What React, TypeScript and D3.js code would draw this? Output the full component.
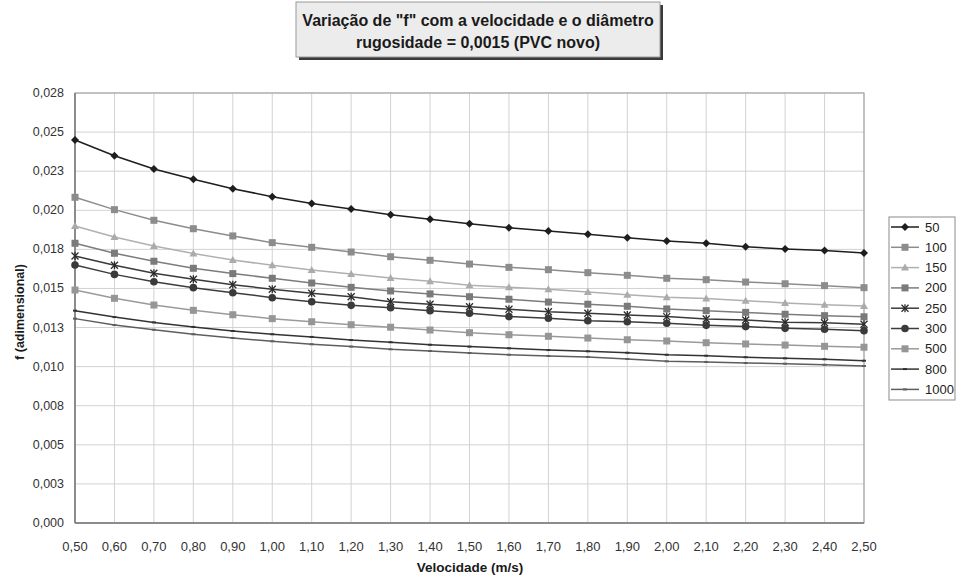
import React from "react";
import * as d3 from "d3";

const velocities = [0.5, 0.6, 0.7, 0.8, 0.9, 1.0, 1.1, 1.2, 1.3, 1.4, 1.5, 1.6, 1.7, 1.8, 1.9, 2.0, 2.1, 2.2, 2.3, 2.4, 2.5];
const xTickLabels = ["0,50", "0,60", "0,70", "0,80", "0,90", "1,00", "1,10", "1,20", "1,30", "1,40", "1,50", "1,60", "1,70", "1,80", "1,90", "2,00", "2,10", "2,20", "2,30", "2,40", "2,50"];
const yTickValues = [0, 0.0025, 0.005, 0.0075, 0.01, 0.0125, 0.015, 0.0175, 0.02, 0.0225, 0.025, 0.0275];
const yTickLabels = ["0,000", "0,003", "0,005", "0,008", "0,010", "0,013", "0,015", "0,018", "0,020", "0,023", "0,025", "0,028"];

const d50 = [0.02449, 0.02349, 0.02264, 0.02198, 0.02138, 0.02087, 0.02044, 0.02008, 0.01972, 0.01942, 0.01914, 0.01889, 0.01867, 0.01846, 0.01825, 0.01804, 0.01789, 0.01767, 0.01752, 0.01742, 0.01727];
const d100 = [0.02083, 0.02004, 0.01936, 0.01882, 0.01836, 0.01793, 0.01763, 0.01733, 0.01703, 0.0168, 0.01656, 0.01635, 0.0162, 0.01601, 0.01584, 0.01565, 0.01556, 0.01541, 0.0153, 0.01518, 0.01505];
const d150 = [0.019, 0.01829, 0.01772, 0.01723, 0.01682, 0.01648, 0.01618, 0.01592, 0.01567, 0.01546, 0.0152, 0.01507, 0.01495, 0.01477, 0.0146, 0.01443, 0.01435, 0.01422, 0.01407, 0.01396, 0.01388];
const d200 = [0.01789, 0.01725, 0.01674, 0.01629, 0.01595, 0.01565, 0.01535, 0.01507, 0.01484, 0.01465, 0.01447, 0.01431, 0.01413, 0.01399, 0.01386, 0.01369, 0.01358, 0.01347, 0.01335, 0.01326, 0.01319];
const d250 = [0.01708, 0.01648, 0.01597, 0.01559, 0.01524, 0.01495, 0.01469, 0.01447, 0.01415, 0.01399, 0.01383, 0.01367, 0.01351, 0.01341, 0.0133, 0.0132, 0.01305, 0.01298, 0.01284, 0.01281, 0.01271];
const d300 = [0.0165, 0.0159, 0.01543, 0.01505, 0.01473, 0.01441, 0.01415, 0.01392, 0.01377, 0.01358, 0.01341, 0.0132, 0.01309, 0.01294, 0.01287, 0.01277, 0.01264, 0.01256, 0.01245, 0.01239, 0.0123];
const d500 = [0.0149, 0.01437, 0.01394, 0.0136, 0.01332, 0.01307, 0.01287, 0.01268, 0.01252, 0.01234, 0.01217, 0.01204, 0.01194, 0.01183, 0.01172, 0.01164, 0.01153, 0.01145, 0.01138, 0.0113, 0.01124];
const d800 = [0.01358, 0.01317, 0.01283, 0.01254, 0.01228, 0.01207, 0.0119, 0.0117, 0.01156, 0.0114, 0.01128, 0.01117, 0.01106, 0.01098, 0.01089, 0.01076, 0.0107, 0.0106, 0.01053, 0.01047, 0.01038];
const d1000 = [0.01307, 0.01266, 0.01236, 0.01207, 0.01183, 0.01162, 0.01143, 0.01128, 0.01111, 0.011, 0.01087, 0.01076, 0.01068, 0.01062, 0.01049, 0.01034, 0.0103, 0.01023, 0.01019, 0.01012, 0.01004];

const seriesNames = ["50", "100", "150", "200", "250", "300", "500", "800", "1000"];
const seriesData = [d50, d100, d150, d200, d250, d300, d500, d800, d1000];
const seriesStyle = [
  { line: "#1e1e1e", fill: "#1e1e1e", marker: "diamond" },
  { line: "#8c8c8c", fill: "#8c8c8c", marker: "square" },
  { line: "#b0b0b0", fill: "#ababab", marker: "triangle" },
  { line: "#7c7c7c", fill: "#7a7a7a", marker: "square" },
  { line: "#3a3a3a", fill: "#2a2a2a", marker: "star" },
  { line: "#3c3c3c", fill: "#3a3a3a", marker: "circle" },
  { line: "#9a9a9a", fill: "#969696", marker: "square" },
  { line: "#333333", fill: "#333333", marker: "dash" },
  { line: "#5e5e5e", fill: "#5e5e5e", marker: "dash" },
];

const FONT = "'Liberation Sans', Arial, sans-serif";

function Marker({ type, x, y, color }: { type: string; x: number; y: number; color: string }) {
  if (type === "diamond") {
    const s = 4;
    return <path d={`M${x},${y - s}L${x + s},${y}L${x},${y + s}L${x - s},${y}Z`} fill={color} />;
  }
  if (type === "square") {
    return <rect x={x - 3.5} y={y - 3.5} width={7} height={7} fill={color} />;
  }
  if (type === "triangle") {
    return <path d={`M${x},${y - 4}L${x + 4},${y + 3}L${x - 4},${y + 3}Z`} fill={color} />;
  }
  if (type === "circle") {
    return <circle cx={x} cy={y} r={3.8} fill={color} />;
  }
  if (type === "star") {
    return (
      <g stroke={color} strokeWidth={1.3}>
        <line x1={x - 3.5} y1={y - 3.5} x2={x + 3.5} y2={y + 3.5} />
        <line x1={x - 3.5} y1={y + 3.5} x2={x + 3.5} y2={y - 3.5} />
        <line x1={x} y1={y - 4} x2={x} y2={y + 4} />
      </g>
    );
  }
  if (type === "dash") {
    return <line x1={x - 2} y1={y} x2={x + 2} y2={y} stroke={color} strokeWidth={2} />;
  }
  return null;
}

export default function App() {
  const W = 957;
  const H = 576;
  const left = 75, right = 864, top = 93, bottom = 523;
  const x = d3.scaleLinear().domain([0.5, 2.5]).range([left, right]);
  const y = d3.scaleLinear().domain([0, 0.0275]).range([bottom, top]);
  const line = d3.line<number>().x((_, i) => x(velocities[i])).y((d) => y(d));

  const legX = 889, legY = 217, legW = 66, legH = 183, legStep = 20.3;

  return (
    <svg width={W} height={H} style={{ position: "absolute", left: 0, top: 0, background: "#fff" }} fontFamily={FONT}>
      <rect x={0} y={0} width={W} height={H} fill="#ffffff" />
      {/* title box */}
      <rect x={299} y={5} width={364} height={55} fill="#3a3a3a" />
      <rect x={296} y={2} width={364} height={55} fill="#ececec" stroke="#9a9a9a" strokeWidth={1} />
      <text x={478} y={26} textAnchor="middle" fontSize={16} fontWeight="bold" fill="#1a1a1a">
        Variação de "f" com a velocidade e o diâmetro
      </text>
      <text x={478} y={48} textAnchor="middle" fontSize={16} fontWeight="bold" fill="#1a1a1a">
        rugosidade = 0,0015 (PVC novo)
      </text>

      {/* grid */}
      {yTickValues.map((v, i) => (
        <line key={"gy" + i} x1={left} x2={right} y1={y(v)} y2={y(v)} stroke="#d2d2d2" strokeWidth={1} />
      ))}
      {velocities.map((v, i) => (
        <line key={"gx" + i} x1={x(v)} x2={x(v)} y1={top} y2={bottom} stroke="#d2d2d2" strokeWidth={1} />
      ))}
      <rect x={left} y={top} width={right - left} height={bottom - top} fill="none" stroke="#9a9a9a" strokeWidth={1} />
      <line x1={left} x2={left} y1={top} y2={bottom} stroke="#7a7a7a" strokeWidth={1.5} />
      <line x1={left} x2={right} y1={bottom} y2={bottom} stroke="#7a7a7a" strokeWidth={1.5} />

      {/* y ticks */}
      {yTickValues.map((v, i) => (
        <text key={"ty" + i} x={64} y={y(v) + 4} textAnchor="end" fontSize={12.5} fill="#333">
          {yTickLabels[i]}
        </text>
      ))}
      {/* x ticks */}
      {velocities.map((v, i) => (
        <text key={"tx" + i} x={x(v)} y={551} textAnchor="middle" fontSize={13} fill="#333">
          {xTickLabels[i]}
        </text>
      ))}
      <text x={470} y={572} textAnchor="middle" fontSize={13.5} fontWeight="bold" fill="#1a1a1a">
        Velocidade (m/s)
      </text>
      <text transform={`translate(24,312) rotate(-90)`} textAnchor="middle" fontSize={12.5} fontWeight="bold" fill="#1a1a1a">
        f (adimensional)
      </text>

      {/* series */}
      {seriesData.map((data, si) => (
        <g key={"s" + si}>
          <path d={line(data) || ""} fill="none" stroke={seriesStyle[si].line} strokeWidth={1.5} />
          {data.map((d, i) => (
            <Marker key={i} type={seriesStyle[si].marker} x={x(velocities[i])} y={y(d)} color={seriesStyle[si].fill} />
          ))}
        </g>
      ))}

      {/* legend */}
      <rect x={legX} y={legY} width={legW} height={legH} fill="#fff" stroke="#8a8a8a" strokeWidth={1} />
      {seriesNames.map((name, i) => {
        const cy = legY + 10 + i * legStep;
        return (
          <g key={"l" + i}>
            <line x1={legX + 2} x2={legX + 30} y1={cy} y2={cy} stroke={seriesStyle[i].line} strokeWidth={1.5} />
            <Marker type={seriesStyle[i].marker} x={legX + 16} y={cy} color={seriesStyle[i].fill} />
            <text x={legX + 36} y={cy + 4.5} fontSize={13} fill="#222">
              {name}
            </text>
          </g>
        );
      })}
    </svg>
  );
}
